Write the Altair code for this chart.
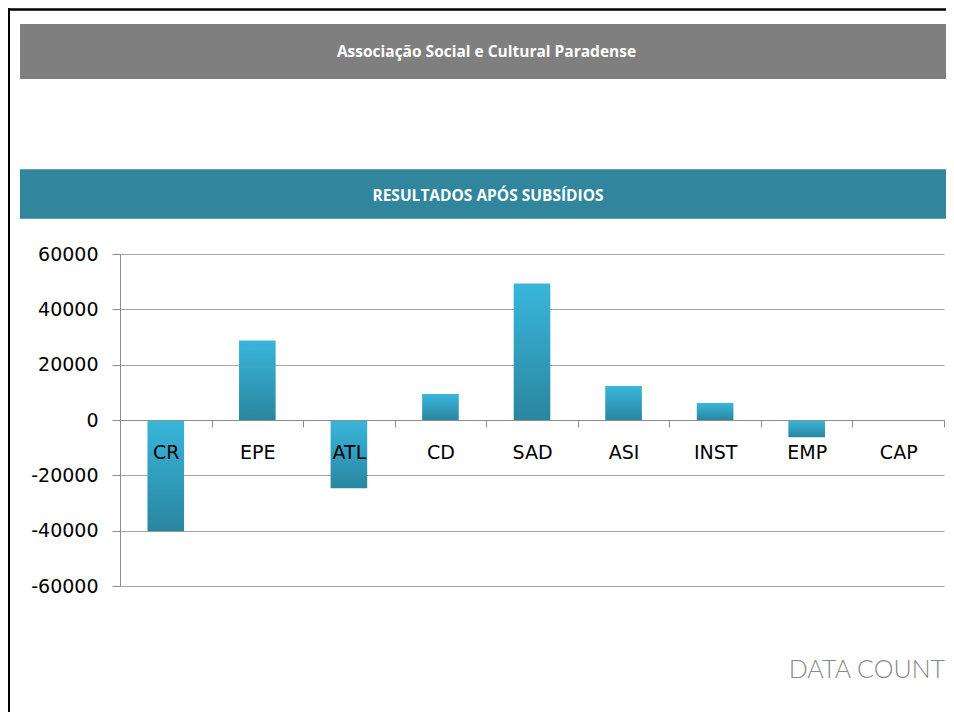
import altair as alt
import pandas as pd

# ---- data ----
categories = ["CR", "EPE", "ATL", "CD", "SAD", "ASI", "INST", "EMP", "CAP"]
values = [-40200, 28700, -24700, 9400, 49300, 12300, 6100, -6200, 0]
y_ticks = [-60000, -40000, -20000, 0, 20000, 40000, 60000]
header_title = ["Associação Social e Cultural Paradense"]
section_title = ["RESULTADOS APÓS SUBSÍDIOS"]
brand = ["DATA COUNT"]

df = pd.DataFrame({"cat": categories, "val": values})

W, H = 824, 332
PAD_L, PAD_T = 112, 246

one = pd.DataFrame({"k": [0]})

# page frame (black border top / left)
frame_left = alt.Chart(one).mark_rect(color="#000000").encode(
    x=alt.value(-112.5), x2=alt.value(-110), y=alt.value(-246), y2=alt.value(470)
)
frame_top = alt.Chart(one).mark_rect(color="#000000").encode(
    x=alt.value(-112.5), x2=alt.value(840), y=alt.value(-245.7), y2=alt.value(-243.2)
)

# grey header band
grey_band = alt.Chart(one).mark_rect(color="#7F7F7F").encode(
    x=alt.value(-100), x2=alt.value(834), y=alt.value(-230), y2=alt.value(-175)
)
grey_text = alt.Chart(pd.DataFrame({"t": header_title})).mark_text(
    font="Open Sans", fontWeight="bold", fontSize=15.5, color="#FFFFFF",
    align="center", baseline="middle"
).encode(x=alt.value(366.5), y=alt.value(-202), text="t:N")

# teal section band
teal_band = alt.Chart(one).mark_rect(color="#31859C").encode(
    x=alt.value(-100), x2=alt.value(834), y=alt.value(-84.7), y2=alt.value(-35.3)
)
teal_text = alt.Chart(pd.DataFrame({"t": section_title})).mark_text(
    font="Open Sans", fontWeight="bold", fontSize=15.5, color="#FFFFFF",
    align="center", baseline="middle"
).encode(x=alt.value(368), y=alt.value(-58), text="t:N")

brand_text = alt.Chart(pd.DataFrame({"t": brand})).mark_text(
    font="Lato", fontWeight=300, fontSize=25, color="#8A8A8A",
    align="right", baseline="middle"
).encode(x=alt.value(825), y=alt.value(416), text="t:N")

gradient = alt.Gradient(
    gradient="linear",
    stops=[alt.GradientStop(color="#39B6DB", offset=0),
           alt.GradientStop(color="#2A869F", offset=1)],
    x1=0, x2=0, y1=0, y2=1,
)

bars = alt.Chart(df).mark_bar(width={"band": 0.4}, fill=gradient).encode(
    x=alt.X(
        "cat:N", sort=categories,
        scale=alt.Scale(paddingInner=0, paddingOuter=0),
        axis=alt.Axis(
            title=None, offset=-166, labelAngle=0, labelFont="DejaVu Sans",
            labelFontSize=19, labelColor="#000000", labelPadding=16,
            tickBand="extent", tickSize=7, tickColor="#8C8C8C",
            domainColor="#8C8C8C", grid=False, zindex=1,
        ),
    ),
    y=alt.Y(
        "val:Q",
        scale=alt.Scale(domain=[-60000, 60000], nice=False),
        axis=alt.Axis(
            title=None, values=y_ticks, labelExpr="datum.value + ''",
            labelFont="DejaVu Sans", labelFontSize=19, labelColor="#000000",
            labelPadding=14, tickSize=8, tickColor="#8C8C8C",
            domainColor="#8C8C8C", gridColor="#A6A6A6", gridWidth=1,
        ),
    ),
)

chart = alt.layer(
    frame_left, frame_top, grey_band, grey_text, teal_band, teal_text,
    bars, brand_text,
).properties(
    width=W, height=H,
    padding={"left": PAD_L, "top": PAD_T, "right": 2, "bottom": 126},
    autosize=alt.AutoSizeParams(type="none"),
    background="#FFFFFF",
).configure_view(stroke="transparent")

chart.save("out.html", embed_options={"renderer": "svg", "actions": False})
